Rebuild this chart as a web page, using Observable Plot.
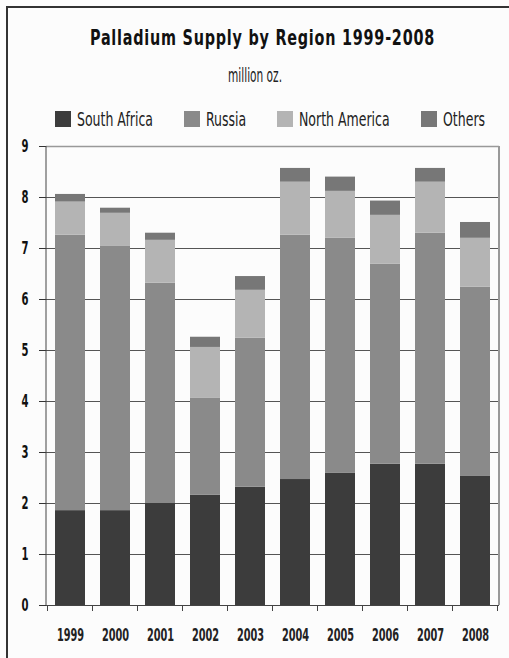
<!DOCTYPE html>
<html>
<head>
<meta charset="utf-8">
<script src="https://cdn.jsdelivr.net/npm/d3@7"></script>
<script src="https://cdn.jsdelivr.net/npm/@observablehq/plot@0.6"></script>
<style>
  html, body { margin: 0; padding: 0; background: #fcfcfc; }
  body { width: 509px; height: 658px; position: relative; overflow: hidden;
         font-family: "DejaVu Sans Condensed", "DejaVu Sans", sans-serif; color: #1a1a1a; }
  #frame { position: absolute; left: 6px; top: 6px; width: 600px; height: 700px;
           border-left: 2px solid #333; border-top: 2px solid #333; }
  .wrap { display: inline-block; overflow: visible; white-space: nowrap; }
  .inner { display: inline-block; white-space: nowrap; transform-origin: left center; }
  #title { position: absolute; top: 26px; font-size: 21px; font-weight: bold; letter-spacing: 1px; color: #111; }
  #subtitle { position: absolute; top: 64px; font-size: 19px; color: #222; }
  #legend { position: absolute; left: 55px; top: 107px; display: flex; gap: 31px; align-items: center;
            font-size: 20px; color: #222; white-space: nowrap; }
  .item { display: flex; align-items: center; gap: 6px; }
  .sw { width: 16px; height: 16px; display: inline-block; flex: none; }
  #chart { position: absolute; left: 0; top: 130px; }
</style>
</head>
<body>
<div id="frame"></div>
<div id="title" class="wrap"><span class="inner">Palladium Supply by Region 1999-2008</span></div>
<div id="subtitle" class="wrap"><span class="inner">million oz.</span></div>
<div id="legend"></div>
<div id="chart"></div>
<script>
const years = ["1999","2000","2001","2002","2003","2004","2005","2006","2007","2008"];
const southAfrica  = [1.86, 1.86, 2.00, 2.16, 2.32, 2.47, 2.59, 2.77, 2.77, 2.53];
const russia       = [5.40, 5.18, 4.32, 1.91, 2.92, 4.79, 4.61, 3.92, 4.53, 3.71];
const northAmerica = [0.65, 0.65, 0.84, 0.99, 0.94, 1.04, 0.92, 0.96, 1.00, 0.96];
const others       = [0.15, 0.10, 0.14, 0.20, 0.27, 0.27, 0.28, 0.28, 0.27, 0.31];
const regions = ["South Africa", "Russia", "North America", "Others"];
const regionColors = ["#3c3c3c", "#8a8a8a", "#b4b4b4", "#777777"];
const yTicks = [0, 1, 2, 3, 4, 5, 6, 7, 8, 9];

const seriesValues = [southAfrica, russia, northAmerica, others];
const data = years.flatMap((year, i) =>
  regions.map((region, j) => ({year, region, value: seriesValues[j][i]})));

// horizontally condense an inline-block span (the reference uses a very narrow typeface)
function condense(inner, f) {
  const w = inner.getBoundingClientRect().width;
  inner.style.transform = `scaleX(${f})`;
  inner.parentElement.style.width = (w * f) + "px";
  return w * f;
}
function condenseTo(inner, target) {
  const w = inner.getBoundingClientRect().width;
  return condense(inner, target / w);
}
function centerAt(el, cx) {
  el.style.left = (cx - el.getBoundingClientRect().width / 2) + "px";
}

// title & subtitle
const titleInner = document.querySelector("#title .inner");
condenseTo(titleInner, 345);
centerAt(document.getElementById("title"), 262);
const subInner = document.querySelector("#subtitle .inner");
condenseTo(subInner, 54);
centerAt(document.getElementById("subtitle"), 255);

// legend
const legend = document.getElementById("legend");
const legendInners = regions.map((r, j) => {
  const it = document.createElement("div");
  it.className = "item";
  it.innerHTML = `<span class="sw" style="background:${regionColors[j]}"></span><span class="wrap"><span class="inner">${r}</span></span>`;
  legend.appendChild(it);
  return it.querySelector(".inner");
});
const legendFactor = 76 / legendInners[0].getBoundingClientRect().width;
legendInners.forEach(el => condense(el, legendFactor));

const font = '"DejaVu Sans Condensed", "DejaVu Sans", sans-serif';

// category boundary ticks, right frame edge and left axis line
function decorations(index, scales, values, dimensions) {
  const x = scales.x, y = scales.y;
  const {width, height, marginLeft, marginRight, marginTop, marginBottom} = dimensions;
  const bw = x.bandwidth ? x.bandwidth() : 0;
  const step = x.step ? x.step() : bw / 0.67;
  const y0 = y(0);
  const g = d3.create("svg:g");
  const bounds = years.map(yr => x(yr) + bw / 2 - step / 2);
  bounds.push(bounds[bounds.length - 1] + step);
  for (const b of bounds) {
    g.append("line").attr("x1", b).attr("x2", b).attr("y1", y0).attr("y2", y0 + 6)
      .attr("stroke", "#444").attr("stroke-width", 1);
  }
  const xr = width - marginRight;
  g.append("line").attr("x1", xr).attr("x2", xr).attr("y1", marginTop).attr("y2", height - marginBottom)
    .attr("stroke", "#999").attr("stroke-width", 2);
  g.append("line").attr("x1", marginLeft).attr("x2", marginLeft).attr("y1", marginTop).attr("y2", height - marginBottom)
    .attr("stroke", "#444").attr("stroke-width", 1);
  return g.node();
}

const chart = Plot.plot({
  width: 509,
  height: 528,
  marginTop: 16,
  marginBottom: 53,
  marginLeft: 46,
  marginRight: 10,
  style: {background: "transparent", fontFamily: font, overflow: "visible"},
  x: {domain: years, paddingInner: 0.33, paddingOuter: 0.165, label: null, axis: null},
  y: {domain: [0, 9], label: null, axis: null},
  color: {domain: regions, range: regionColors},
  marks: [
    Plot.ruleY(yTicks.filter(d => d > 0 && d < 9), {stroke: "#555", strokeWidth: 1}),
    Plot.ruleY([9], {stroke: "#999", strokeWidth: 1.5}),
    Plot.barY(data, {x: "year", y: "value", fill: "region"}),
    Plot.ruleY([0], {stroke: "#444", strokeWidth: 1}),
    Plot.axisY({ticks: yTicks, tickSize: 7, tickPadding: 11, tickFormat: d => String(d),
                fontSize: 17, fontWeight: "bold", stroke: "#333", fill: "#111", label: null,
                ariaLabel: "y-axis"}),
    Plot.axisX({tickSize: 0, tickPadding: 23, fontSize: 17, fontWeight: "bold", fill: "#222", label: null,
                ariaLabel: "x-axis"}),
    decorations
  ]
});
document.getElementById("chart").appendChild(chart);

// narrow the axis tick labels the same way
function condenseSvgTexts(selector, perChar) {
  chart.querySelectorAll(selector).forEach(t => {
    const n = t.textContent.length;
    t.setAttribute("textLength", perChar * n);
    t.setAttribute("lengthAdjust", "spacingAndGlyphs");
  });
}
condenseSvgTexts('g[aria-label="x-axis tick label"] text', 6.8);
condenseSvgTexts('g[aria-label="y-axis tick label"] text', 7);
</script>
</body>
</html>
